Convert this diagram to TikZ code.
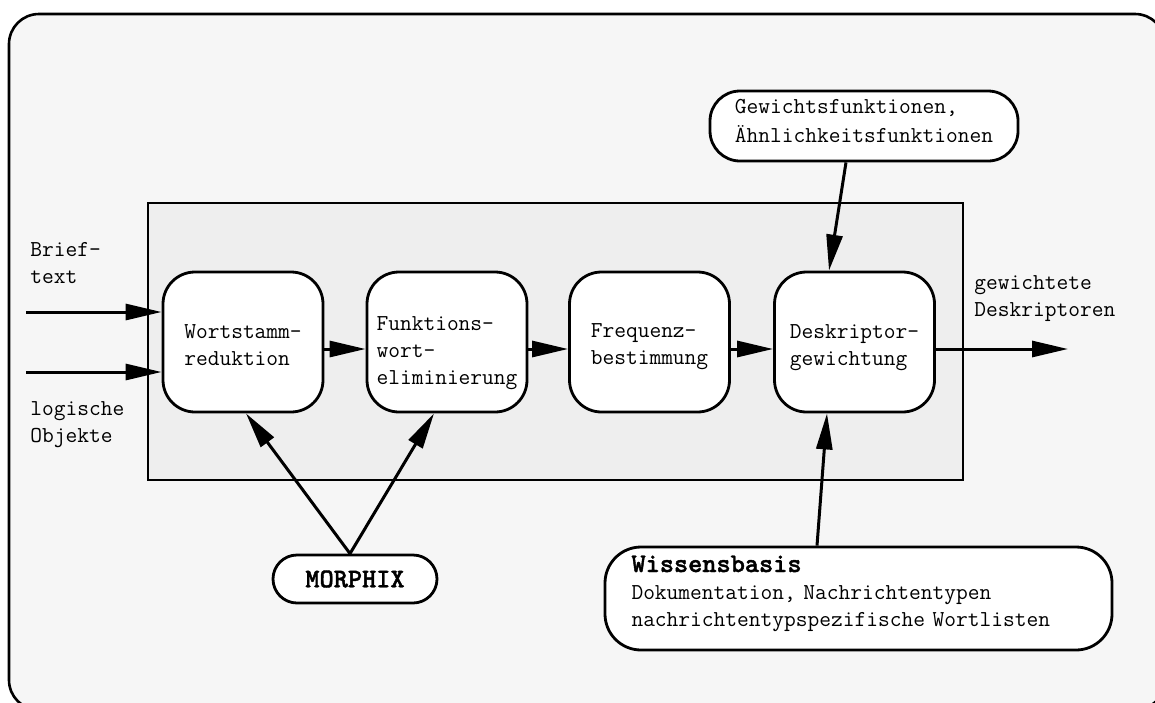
\documentclass[tikz,border=0pt]{standalone}
\usepackage{fontspec}
\newfontfamily\ttheavy{lmmonolt10-bold.otf}[FakeBold=1.5]
\usetikzlibrary{arrows.meta,calc}
\definecolor{bgout}{HTML}{F6F6F6}
\definecolor{bgin}{HTML}{EEEEEE}
\newcommand\TopR[1]{\rule{0pt}{#1}}
\newcommand\BotR[1]{\rule[-#1]{0pt}{0pt}}
\newcommand\BigBold[1]{{\fontsize{13.5pt}{13.5pt}\selectfont\ttheavy #1}}
\begin{document}
\begin{tikzpicture}[x=0.5pt,y=-0.5pt,
  font=\ttfamily\fontsize{11.4pt}{13.5pt}\selectfont,
  proc/.style={draw, fill=white, line width=1.4pt, rounded corners=16pt,
    minimum width=80pt, minimum height=70pt, align=left, inner sep=0pt},
  srcbox/.style={draw, fill=white, line width=1.4pt, align=left, inner sep=0pt},
  lbl/.style={anchor=north west, align=left, inner sep=0pt},
  arr/.style={-{Triangle[length=18pt,width=8pt]}, line width=1.5pt},
]
\useasboundingbox (0,0) rectangle (1155,702);
% frames
\draw[fill=bgout, line width=1.3pt, rounded corners=15pt] (9,14) rectangle (1165,710);
\draw[fill=bgin, line width=1.3pt] (148,203) rectangle (963,480);

% process boxes
\node[proc] (b1) at (243,342) {\TopR{12.5pt}Wortstamm-\\reduktion\BotR{3pt}};
\node[proc] (b2) at (447,342) {\TopR{18pt}Funktions-\\wort-\\eliminierung\BotR{3pt}};
\node[proc] (b3) at (649.5,342) {\TopR{11.5pt}Frequenz-\\bestimmung\BotR{3pt}};
\node[proc] (b4) at (854.5,342) {\TopR{12.5pt}Deskriptor-\\gewichtung\BotR{3pt}};

% sources
\node[srcbox, rounded corners=15pt, minimum width=154pt, minimum height=35pt] (gw) at (864,126)
  {\TopR{8pt}Gewichtsfunktionen,\\[1pt]Ähnlichkeitsfunktionen\BotR{6.5pt}};
\node[srcbox, rounded corners=18pt, minimum width=253.5pt, minimum height=51.5pt, text width=227pt] (wb) at (858.5,598.5)
  {\TopR{8.5pt}\BigBold{Wissensbasis}\\Dokumentation, Nachrichtentypen\\nachrichtentypspezifische Wortlisten\BotR{8pt}};
\node[srcbox, rounded corners=12pt, minimum width=82pt, minimum height=24pt, align=center] (mx) at (355,579)
  {\BigBold{MORPHIX}};

% labels
\node[lbl] (lbrief) at (30,240) {\TopR{8pt}Brief-\\text};
\node[lbl] (llog) at (30,399) {\TopR{8pt}logische\\Objekte};
\node[lbl] (lout) at (974,273) {\TopR{8pt}gewichtete\\Deskriptoren};

% inputs
\coordinate (in1) at (26,312);
\coordinate (in2) at (26,372);
\coordinate (out) at (1068,349);
\draw[arr] (in1) -- (in1 -| b1.west);
\draw[arr] (in2) -- (in2 -| b1.west);

% chain
\draw[arr] ([yshift=-3.5pt]b1.east) -- ([yshift=-3.5pt]b2.west);
\draw[arr] ([yshift=-3.5pt]b2.east) -- ([yshift=-3.5pt]b3.west);
\draw[arr] ([yshift=-3.5pt]b3.east) -- ([yshift=-3.5pt]b4.west);
\draw[arr] ([yshift=-3.5pt]b4.east) -- (out);

% knowledge sources
\draw[arr] ([xshift=-9pt]gw.south) -- ([xshift=-12.75pt]b4.north);
\draw[arr] ([xshift=-20.75pt]wb.north) -- ([xshift=-13.75pt]b4.south);
\draw[arr] ([xshift=-2.5pt]mx.north) -- ([xshift=1.5pt]b1.south);
\draw[arr] ([xshift=-2.5pt]mx.north) -- ([xshift=-6.5pt]b2.south);
\end{tikzpicture}
\end{document}
